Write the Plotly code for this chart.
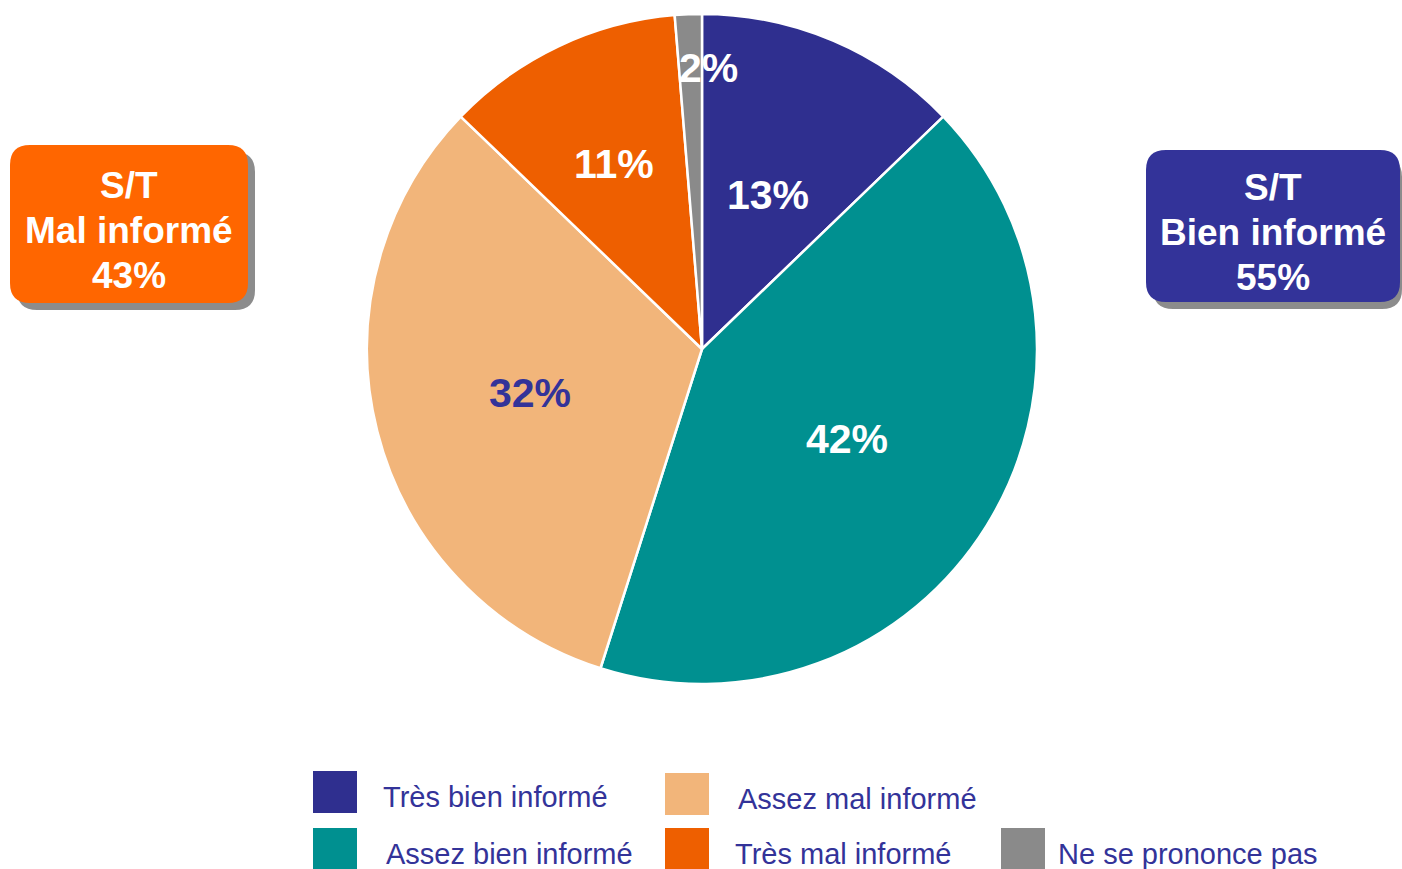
import math
import plotly.graph_objects as go

# ---- data ----
labels = ["Très bien informé", "Assez bien informé", "Assez mal informé",
          "Très mal informé", "Ne se prononce pas"]
values = [12.8, 42.1, 32.3, 11.5, 1.3]        # slice sizes as drawn
pct_labels = [13, 42, 32, 11, 2]              # percentages printed on the slices
colors = ["#2F2F8F", "#009090", "#F2B57A", "#EE5F00", "#8A8A8A"]
text_colors = ["white", "white", "#333399", "white", "white"]
label_radius = [0.50, 0.51, 0.53, 0.61, 0.84]   # fraction of pie radius for value labels
label_xshift = [0, 0, 0, 0, 18]                  # small horizontal nudge (px)

summary_lines = [["S/T", "Mal informé"], ["S/T", "Bien informé"]]
summary_values = [pct_labels[2] + pct_labels[3], pct_labels[0] + pct_labels[1]]
summary_colors = ["#FF6600", "#333399"]

W, H = 1402, 869
CX, CY, R = 702, 349, 335   # pie centre / radius in pixels
FONT = "Liberation Sans, Arial, sans-serif"


def px(x):
    return x / W


def py(y):
    return 1 - y / H


def rrect(x0, y0, x1, y1, r):
    pts = [
        f"M {px(x0 + r)} {py(y0)}",
        f"L {px(x1 - r)} {py(y0)}",
        f"Q {px(x1)} {py(y0)} {px(x1)} {py(y0 + r)}",
        f"L {px(x1)} {py(y1 - r)}",
        f"Q {px(x1)} {py(y1)} {px(x1 - r)} {py(y1)}",
        f"L {px(x0 + r)} {py(y1)}",
        f"Q {px(x0)} {py(y1)} {px(x0)} {py(y1 - r)}",
        f"L {px(x0)} {py(y0 + r)}",
        f"Q {px(x0)} {py(y0)} {px(x0 + r)} {py(y0)}",
        "Z",
    ]
    return " ".join(pts)


fig = go.Figure()
fig.add_trace(go.Pie(
    labels=labels,
    values=values,
    sort=False,
    direction="clockwise",
    rotation=0,
    marker=dict(colors=colors, line=dict(color="white", width=2.5)),
    textinfo="none",
    domain=dict(x=[px(CX - R), px(CX + R)], y=[py(CY + R), py(CY - R)]),
    showlegend=False,
    hoverinfo="label+percent",
))

shapes = []
annotations = []

# value labels placed along each slice's bisector (derived from the values)
total = sum(values)
cum = 0
for v, p, tc, rf, xs in zip(values, pct_labels, text_colors, label_radius, label_xshift):
    mid = (cum + v / 2) / total * 2 * math.pi
    cum += v
    r = rf * R
    annotations.append(dict(
        xref="paper", yref="paper",
        x=px(CX + r * math.sin(mid)), y=py(CY - r * math.cos(mid)), xshift=xs,
        text=f"<b>{p}%</b>", showarrow=False, xanchor="center", yanchor="middle",
        font=dict(family=FONT, size=41, color=tc)))

# summary boxes
boxes = [(10, 145, 248, 303), (1146, 150, 1400, 302)]
for (x0, y0, x1, y1), lines, val, col in zip(boxes, summary_lines, summary_values, summary_colors):
    shapes.append(dict(type="path", xref="paper", yref="paper",
                       path=rrect(x0 + 7, y0 + 7, min(x1 + 7, W), y1 + 7, 20),
                       fillcolor="#8C8C8C", line=dict(width=0), layer="above"))
    shapes.append(dict(type="path", xref="paper", yref="paper",
                       path=rrect(x0, y0, x1, y1, 20),
                       fillcolor=col, line=dict(width=0), layer="above"))
    yc = (y0 + y1) / 2 + 6
    for i, t in enumerate(lines + [f"{val}%"]):
        annotations.append(dict(xref="paper", yref="paper",
                                x=px((x0 + x1) / 2), y=py(yc + (i - 1) * 45),
                                text=f"<b>{t}</b>", showarrow=False,
                                font=dict(family=FONT, size=37, color="white"),
                                xanchor="center", yanchor="middle"))

# custom legend
legend_pos = [(313, 771, 381, 797), (313, 828, 384, 854), (665, 773, 736, 799),
              (665, 828, 733, 854), (1001, 828, 1056, 854)]
for (sx, sy, tx, ty), lab, col in zip(legend_pos, labels, colors):
    shapes.append(dict(type="rect", xref="paper", yref="paper",
                       x0=px(sx), x1=px(sx + 44), y0=py(sy + 42), y1=py(sy),
                       fillcolor=col, line=dict(width=0)))
    annotations.append(dict(xref="paper", yref="paper", x=px(tx), y=py(ty),
                            text=lab, showarrow=False, xanchor="left", yanchor="middle",
                            font=dict(family=FONT, size=29, color="#333399")))

fig.update_layout(
    width=W, height=H,
    margin=dict(l=0, r=0, t=0, b=0),
    paper_bgcolor="white", plot_bgcolor="white",
    shapes=shapes, annotations=annotations,
    showlegend=False,
)

fig.write_html("out.html", config={"displayModeBar": False},
               post_script="document.body.style.margin='0';document.body.style.overflow='hidden';")
